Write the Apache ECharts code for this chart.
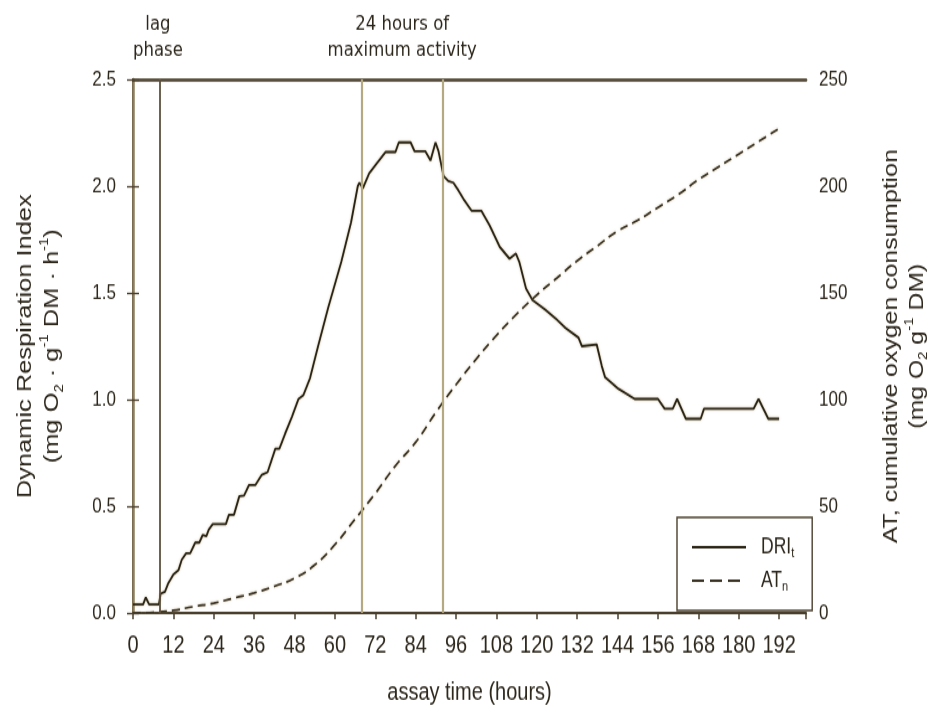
<!DOCTYPE html>
<html>
<head>
<meta charset="utf-8">
<script src="https://cdn.jsdelivr.net/npm/echarts@6/dist/echarts.min.js"></script>
<style>
  html { margin: 0; padding: 0; background: #ffffff; overflow: hidden; }
  body { margin: 0; padding: 0; background: #ffffff; width: 938px; height: 711px; }
  /* the figure is laid out at 938x573 and shown with a vertical stretch */
  #chart { width: 938px; height: 573px; transform: scale(1, 1.2408); transform-origin: 0 0; }
</style>
</head>
<body>
<div id="chart"></div>
<script>
// Dynamic Respiration Index (left axis), hourly readings with stepped sensor output
const driHours = [0, 3, 3.8, 4.8, 7.7, 8.2, 9.5, 10.5, 12, 13.5, 14.5, 15.8, 17, 18.5, 19.7, 20.7, 21.8, 22.5, 23.7, 27.6,
  28.5, 30, 31.6, 33, 34.5, 36.4, 38.3, 40, 42.3, 43.5, 45.2, 47.2, 49.2, 50.6, 52.6, 55, 58, 61.9, 64.8, 66.8,
  67.3, 68.3, 70.2, 72.6, 75.1, 78, 79, 82.5, 83.7, 86.9, 88.4, 89.9, 90.8, 92.3, 93.7, 95.2, 96.7, 98.2, 100.6, 103.5,
  106, 109, 111.9, 113.8, 114.8, 116.8, 118.7, 122.6, 125.6, 128.5, 132.4, 133.4, 137.8, 139.3, 140.3, 144.3, 149.1, 156, 158, 160.4,
  161.7, 164.3, 168.7, 169.7, 184.4, 185.9, 188.8, 192];
const driValues = [0.04, 0.04, 0.073, 0.04, 0.04, 0.09, 0.10, 0.14, 0.18, 0.20, 0.25, 0.28, 0.28, 0.33, 0.33, 0.365, 0.36, 0.39, 0.416, 0.416,
  0.46, 0.46, 0.547, 0.55, 0.60, 0.60, 0.648, 0.66, 0.77, 0.77, 0.84, 0.918, 1.003, 1.02, 1.10, 1.25, 1.43, 1.645, 1.83, 2.0,
  2.016, 1.99, 2.06, 2.11, 2.16, 2.16, 2.205, 2.205, 2.163, 2.163, 2.12, 2.205, 2.163, 2.047, 2.024, 2.016, 1.98, 1.94, 1.885, 1.885,
  1.815, 1.715, 1.66, 1.684, 1.645, 1.52, 1.467, 1.42, 1.38, 1.336, 1.29, 1.25, 1.258, 1.158, 1.104, 1.05, 1.003, 1.003, 0.957, 0.957,
  1.003, 0.91, 0.91, 0.957, 0.957, 1.003, 0.91, 0.91];

// Cumulative oxygen consumption (right axis)
const atHours = [0, 6, 12, 18, 24, 30, 36, 42, 48, 54, 60, 66, 72, 78, 84, 90, 96, 102, 108, 114,
  120, 126, 132, 138, 144, 150, 156, 162, 168, 174, 180, 186, 192];
const atValues = [0, 0.3, 1.2, 3, 4.6, 7, 9.4, 12.5, 16.3, 22.5, 32, 44, 56, 69, 80, 94, 107, 119, 130, 140,
  149, 157, 165, 172, 179, 184, 190, 196, 203, 209, 215, 221, 227];

// Phase boundaries (hours): end of lag phase, start and end of the 24 h of maximum activity
const lagEnd = 8;
const maxActivity = [68, 92];

const driLabel = 'DRIt';
const atLabel = 'ATn';

const axisDark = '#4a3f2c';
const tan = '#b5a982';
const textColor = '#2d271c';
const sans = "'Liberation Sans', Arial, sans-serif";

const pair = (xs, ys) => xs.map((x, i) => [x, ys[i]]);

const makeRich = (size, lh) => ({
  t: { fontFamily: sans, fontSize: size, lineHeight: lh, color: textColor },
  sub: { fontFamily: sans, fontSize: Math.round(size * 0.6), lineHeight: 13, verticalAlign: 'bottom', color: textColor },
  sup: { fontFamily: sans, fontSize: Math.round(size * 0.6), lineHeight: 13, verticalAlign: 'top', color: textColor }
});

const chart = echarts.init(document.getElementById('chart'), null, { renderer: 'canvas', width: 938, height: 573 });

chart.setOption({
  animation: false,
  backgroundColor: '#ffffff',
  grid: { left: 133, top: 64, width: 680, height: 434 },
  legend: {
    left: 677, top: 417,
    orient: 'vertical',
    data: [
      { name: driLabel },
      { name: atLabel, lineStyle: { type: [12, 6] } }
    ],
    itemWidth: 54, itemHeight: 14, itemGap: 8,
    padding: [15, 18, 14, 14],
    borderColor: axisDark, borderWidth: 1.4,
    backgroundColor: '#ffffff',
    itemStyle: { opacity: 0 },
    formatter: n => n === driLabel ? '{m|DRI}{s|t}' : '{m|AT}{s|n}',
    textStyle: {
      padding: [0, 0, 0, 10],
      rich: {
        m: { fontFamily: sans, fontSize: 17.5, lineHeight: 20, color: textColor },
        s: { fontFamily: sans, fontSize: 11, lineHeight: 11, verticalAlign: 'bottom', color: textColor }
      }
    }
  },
  xAxis: [{
    type: 'value', min: 0, max: 200, interval: 12,
    name: 'assay time (hours)', nameLocation: 'middle', nameGap: 54,
    nameTextStyle: { fontFamily: sans, fontSize: 20, color: textColor },
    axisLine: { lineStyle: { color: axisDark, width: 2 } },
    axisTick: { length: 5, lineStyle: { color: axisDark, width: 1.5 } },
    axisLabel: {
      margin: 16, fontFamily: sans, fontSize: 20, color: textColor,
      formatter: v => (v > 192 ? '' : String(v))
    },
    splitLine: { show: false }
  }, {
    // top frame line
    type: 'value', position: 'top', min: 0, max: 200,
    axisLine: { show: true, onZero: false, lineStyle: { color: axisDark, width: 2.6 } },
    axisTick: { show: false }, axisLabel: { show: false }, splitLine: { show: false }
  }],
  yAxis: [{
    type: 'value', min: 0, max: 2.5, interval: 0.5, position: 'left',
    name: '{t|Dynamic Respiration Index}\n{t|(mg O}{sub|2}{t| · g}{sup|-1}{t| DM · h}{sup|-1}{t|)}',
    nameLocation: 'middle', nameGap: 67,
    nameTextStyle: { rich: makeRich(20.5, 27) },
    axisLine: { show: true, lineStyle: { color: axisDark, width: 2 } },
    axisTick: { show: true, length: 6, lineStyle: { color: axisDark, width: 1.3 } },
    axisLabel: { margin: 17, fontFamily: sans, fontSize: 17, color: textColor, formatter: v => v.toFixed(1) },
    splitLine: { show: false }
  }, {
    type: 'value', min: 0, max: 250, interval: 50, position: 'right',
    name: '{t|AT, cumulative oxygen consumption}\n{t|(mg O}{sub|2}{t| g}{sup|-1}{t| DM)}',
    nameLocation: 'middle', nameGap: 72,
    nameTextStyle: { rich: makeRich(20, 26) },
    axisLine: { show: true, lineStyle: { color: '#8c7f5c', width: 2.5 } },
    axisTick: { show: true, length: 6, lineStyle: { color: axisDark, width: 1.3 } },
    axisLabel: { margin: 13, fontFamily: sans, fontSize: 17, color: textColor },
    splitLine: { show: false }
  }],
  series: [{
    name: driLabel,
    type: 'line',
    xAxisIndex: 0, yAxisIndex: 0,
    data: pair(driHours, driValues),
    showSymbol: false,
    lineStyle: { color: '#2a2416', width: 1.8, shadowColor: 'rgba(170,150,100,0.7)', shadowBlur: 2 },
    itemStyle: { color: '#2a2416' },
    z: 3,
    markLine: {
      silent: true, symbol: 'none', label: { show: false },
      data: [
        { xAxis: lagEnd, lineStyle: { color: '#5d513b', width: 1.8, type: 'solid' } },
        { xAxis: maxActivity[0], lineStyle: { color: tan, width: 2.2, type: 'solid' } },
        { xAxis: maxActivity[1], lineStyle: { color: tan, width: 2.2, type: 'solid' } }
      ]
    }
  }, {
    name: atLabel,
    type: 'line',
    xAxisIndex: 0, yAxisIndex: 1,
    data: pair(atHours, atValues),
    smooth: true,
    showSymbol: false,
    lineStyle: { color: '#3a3222', width: 1.7, type: [8, 5], shadowColor: 'rgba(170,150,100,0.6)', shadowBlur: 2 },
    itemStyle: { color: '#3a3222' },
    z: 3
  }]
});

// Phase annotations above the frame
const lagX = chart.convertToPixel({ xAxisIndex: 0 }, lagEnd);
const maxX = chart.convertToPixel({ xAxisIndex: 0 }, (maxActivity[0] + maxActivity[1]) / 2);
const noteStyle = { fontFamily: "'DejaVu Sans', Verdana, sans-serif", fontSize: 16.5, lineHeight: 21, fill: textColor, align: 'center', verticalAlign: 'top' };
chart.setOption({
  graphic: [
    { type: 'text', x: lagX - 2, y: 9, style: Object.assign({ text: 'lag\nphase' }, noteStyle) },
    { type: 'text', x: maxX, y: 9, style: Object.assign({ text: '24 hours of\nmaximum activity' }, noteStyle) }
  ]
});
</script>
</body>
</html>
